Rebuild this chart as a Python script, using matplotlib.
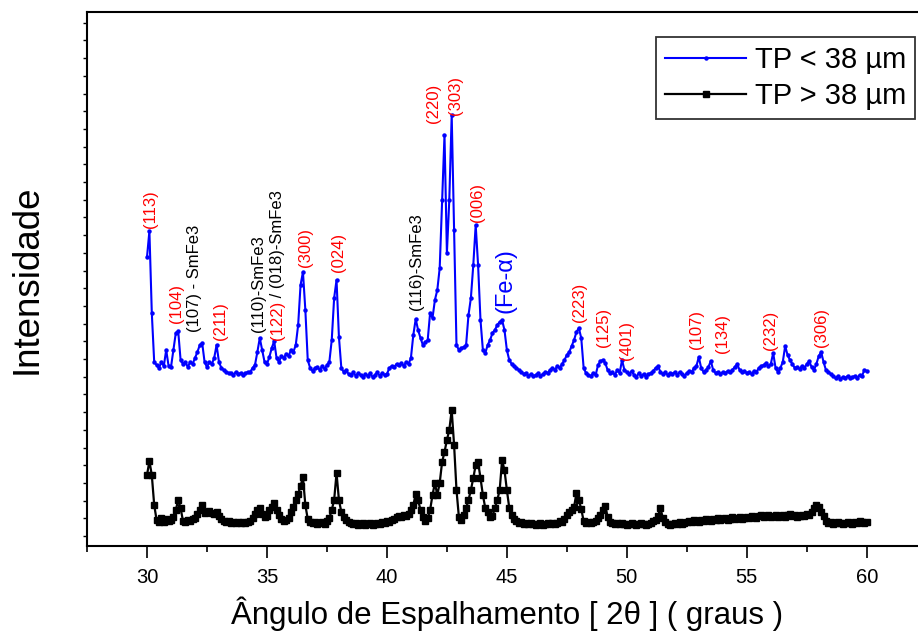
import matplotlib
matplotlib.use('Agg')
import matplotlib.pyplot as plt
import numpy as np

plt.rcParams['font.family'] = ['Liberation Sans', 'DejaVu Sans']

# Varredura de 30 a 60 graus, passo de 0.1
angulo = np.round(np.arange(30.0, 60.05, 0.1), 1)

# Intensidade (u.a.) - pó fino, TP < 38 um (curva deslocada para cima)
tp_fino = [
    289, 315, 233, 184, 181, 178, 184, 180, 196, 180,
    179, 196, 213, 215, 186, 182, 184, 179, 184, 182,
    188, 194, 201, 203, 184, 179, 184, 182, 188, 201,
    184, 178, 176, 174, 173, 173, 171, 174, 172, 173,
    171, 173, 174, 174, 178, 181, 194, 208, 196, 184,
    182, 189, 198, 205, 188, 184, 190, 188, 192, 190,
    196, 194, 201, 221, 261, 274, 236, 186, 178, 175,
    178, 179, 176, 180, 177, 181, 184, 206, 248, 266,
    209, 178, 174, 176, 172, 171, 174, 170, 173, 171,
    169, 172, 170, 173, 169, 171, 174, 170, 173, 171,
    172, 178, 180, 179, 182, 181, 183, 180, 184, 182,
    188, 211, 227, 216, 208, 201, 204, 206, 233, 228,
    246, 256, 278, 346, 411, 293, 346, 431, 316, 201,
    196, 198, 199, 201, 231, 248, 281, 321, 281, 226,
    196, 193, 201, 206, 213, 216, 221, 224, 226, 216,
    196, 186, 182, 180, 178, 176, 174, 172, 173, 170,
    172, 170, 171, 173, 170, 172, 174, 173, 176, 178,
    176, 180, 178, 182, 186, 191, 194, 200, 206, 214,
    218, 208, 178, 173, 171, 170, 173, 171, 181, 185,
    186, 183, 176, 173, 174, 171, 176, 173, 186, 176,
    174, 172, 175, 171, 169, 173, 170, 172, 169, 172,
    173, 175, 178, 180, 174, 172, 174, 171, 173, 172,
    174, 171, 174, 172, 170, 173, 175, 174, 178, 180,
    189, 178, 174, 176, 179, 185, 176, 173, 174, 172,
    174, 173, 175, 174, 176, 179, 182, 176, 174, 175,
    173, 174, 172, 175, 174, 178, 180, 181, 183, 180,
    182, 193, 178, 174, 178, 184, 200, 191, 186, 182,
    178, 179, 177, 180, 178, 182, 185, 179, 176, 182,
    190, 194, 184, 176, 174, 172, 170, 168, 170, 167,
    169, 168, 170, 168, 169, 170, 168, 171, 170, 176,
    175,
]

# Intensidade (u.a.) - pó grosso, TP > 38 um
tp_grosso = [
    71, 85, 71, 41, 26, 24, 28, 24, 27, 25,
    26, 29, 36, 46, 38, 25, 24, 26, 25, 27,
    28, 32, 36, 41, 33, 34, 35, 33, 32, 34,
    30, 27, 25, 24, 25, 23, 24, 23, 24, 23,
    24, 23, 24, 25, 28, 32, 36, 38, 32, 29,
    30, 36, 39, 43, 36, 31, 27, 25, 26, 28,
    34, 39, 46, 52, 60, 69, 41, 27, 24, 23,
    24, 22, 23, 24, 22, 25, 28, 36, 46, 73,
    46, 34, 29, 26, 24, 23, 22, 23, 21, 22,
    23, 21, 22, 23, 21, 22, 23, 22, 24, 23,
    25, 24, 26, 27, 29, 30, 29, 31, 30, 32,
    36, 41, 52, 46, 36, 29, 25, 28, 36, 51,
    63, 51, 63, 84, 94, 106, 116, 136, 101, 56,
    29, 26, 31, 38, 46, 56, 68, 81, 84, 68,
    51, 38, 34, 29, 30, 38, 46, 56, 86, 76,
    56, 38, 31, 27, 25, 23, 24, 22, 23, 22,
    23, 22, 21, 22, 23, 21, 22, 23, 22, 23,
    22, 23, 25, 24, 27, 31, 34, 36, 39, 53,
    46, 37, 25, 23, 24, 23, 24, 25, 28, 31,
    36, 40, 29, 24, 23, 22, 23, 22, 23, 22,
    21, 22, 23, 22, 21, 22, 23, 22, 21, 22,
    23, 25, 26, 30, 38, 28, 24, 22, 21, 22,
    23, 22, 24, 22, 23, 24, 25, 24, 26, 25,
    24, 26, 25, 27, 26, 25, 27, 26, 28, 26,
    27, 28, 26, 27, 29, 27, 28, 29, 27, 28,
    29, 28, 30, 29, 28, 30, 31, 29, 30, 31,
    29, 30, 31, 29, 30, 31, 29, 31, 32, 30,
    31, 29, 30, 31, 30, 32, 31, 34, 38, 41,
    39, 34, 30, 25, 23, 24, 22, 23, 24, 23,
    22, 23, 24, 23, 22, 24, 23, 25, 24, 23,
    24,
]

# Indexação dos picos: (texto, posição 2θ, base do rótulo, cor, tamanho)
picos = [
    ('(113)', 30.14, 318, 'red', 12),
    ('(104)', 31.25, 223, 'red', 12),
    ('(107) - SmFe3', 32.0, 214, 'black', 12),
    ('(211)', 33.08, 206, 'red', 12),
    ('(110)-SmFe3', 34.65, 214, 'black', 12),
    ('(122)', 35.42, 206, 'red', 12),
    (' / (018)-SmFe3', 35.42, 244, 'black', 12),
    ('(300)', 36.6, 279, 'red', 12),
    ('(024)', 37.98, 274, 'red', 12),
    ('(116)-SmFe3', 41.25, 236, 'black', 12),
    ('(220)', 41.94, 423, 'red', 12),
    ('(303)', 42.85, 431, 'red', 12),
    ('(006)', 43.78, 324, 'red', 12),
    ('(Fe-\u03b1)', 44.93, 233, 'blue', 17),
    ('(223)', 48.03, 224, 'red', 12),
    ('(125)', 49.03, 199, 'red', 12),
    ('(401)', 49.97, 186, 'red', 12),
    ('(107)', 52.92, 197, 'red', 12),
    ('(134)', 54.0, 193, 'red', 12),
    ('(232)', 56.0, 196, 'red', 12),
    ('(306)', 58.13, 199, 'red', 12),
]

fig = plt.figure(figsize=(9.18, 6.32), dpi=100)
ax = fig.add_axes([0.0948, 0.136, 0.9147, 0.845])

ax.plot(angulo, tp_fino, color='blue', lw=1.5, marker='o', ms=2.2,
        label='TP < 38 \u00b5m')
ax.plot(angulo, tp_grosso, color='black', lw=1.6, marker='s', ms=4.5,
        label='TP > 38 \u00b5m')

for texto, x, y, cor, tam in picos:
    ax.text(x, y, texto, rotation=90, ha='center', va='bottom',
            color=cor, fontsize=tam)

ax.set_xlim(27.5, 62.5)
ax.set_ylim(0, 534)
ax.set_xticks([30, 35, 40, 45, 50, 55, 60])
ax.set_xticks(np.arange(27.5, 62.6, 2.5), minor=True)
ax.set_yticks(np.arange(10, 530, 17.7))
ax.set_yticklabels([])

ax.tick_params(axis='x', which='major', direction='out', length=8.5,
               width=1.2, labelsize=14.5, pad=7)
ax.tick_params(axis='x', which='minor', direction='out', length=4.5, width=1.2)
ax.tick_params(axis='y', direction='out', length=3, width=1)
for s in ax.spines.values():
    s.set_linewidth(1.5)

ax.set_xlabel('\u00c2ngulo de Espalhamento [ 2\u03b8 ] ( graus )',
              fontsize=22.5, labelpad=7)
ax.set_ylabel('Intensidade', fontsize=26.5, labelpad=24)

leg = ax.legend(loc='upper left', bbox_to_anchor=(656 / 918, 1 - 37 / 632),
                bbox_transform=fig.transFigure, fontsize=21, numpoints=1,
                fancybox=False, edgecolor='black', handlelength=2.8,
                borderaxespad=0, borderpad=0.3, labelspacing=0.3,
                handletextpad=0.3)
leg.get_frame().set_linewidth(1.3)

fig.savefig('out.png', dpi=100)
